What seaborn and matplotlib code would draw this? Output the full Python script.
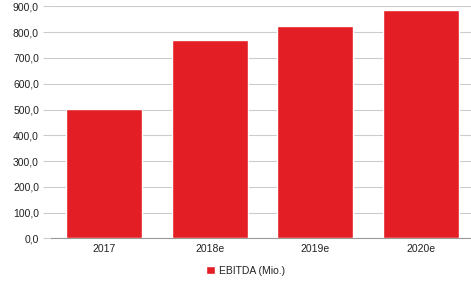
import pandas as pd
import matplotlib
import matplotlib.pyplot as plt
import seaborn as sns
from matplotlib.ticker import FuncFormatter

matplotlib.use('Agg')

years = ['2017', '2018e', '2019e', '2020e']
ebitda = [503.0, 769.0, 826.0, 887.0]
series_name = 'EBITDA (Mio.)'

sns.set_style('white')
plt.rcParams['font.family'] = ['Liberation Sans', 'DejaVu Sans']

df = pd.DataFrame({'Jahr': years, 'Wert': ebitda, 'Serie': series_name})

fig = plt.figure(figsize=(4.71, 2.82), dpi=100)
ax = fig.add_axes([0.1087, 0.155, 0.8968, 0.822])

sns.barplot(data=df, x='Jahr', y='Wert', hue='Serie', palette=['#e31e24'],
            width=0.72, saturation=1, ax=ax, zorder=3, legend=True)

ax.set_ylim(0, 900)
ax.set_yticks(range(0, 901, 100))
ax.yaxis.set_major_formatter(FuncFormatter(lambda v, p: f"{v:.1f}".replace('.', ',')))
ax.grid(axis='y', color='#cccccc', linewidth=0.8, zorder=0)
ax.set_axisbelow(True)
for s in ['top', 'right', 'left']:
    ax.spines[s].set_visible(False)
ax.spines['bottom'].set_color('#9a9a9a')
ax.spines['bottom'].set_linewidth(0.8)
ax.tick_params(axis='y', length=5.8, width=0.8, color='#cccccc', pad=3,
               labelsize=7.5, labelcolor='#222222', left=True)
ax.tick_params(axis='x', length=0, pad=4, labelsize=7.5, labelcolor='#222222')
ax.yaxis.get_major_ticks()[0].tick1line.set_color('#9a9a9a')
ax.set_xlabel('')
ax.set_ylabel('')

ax.get_legend().remove()
handles, labels = ax.get_legend_handles_labels()
fig.legend(handles, labels, loc='center', bbox_to_anchor=(0.522, 0.039),
           frameon=False, fontsize=7.5, handlelength=0.8, handleheight=0.8,
           handletextpad=0.45, labelcolor='#222222')

fig.savefig('out.png', dpi=100)
plt.close(fig)
